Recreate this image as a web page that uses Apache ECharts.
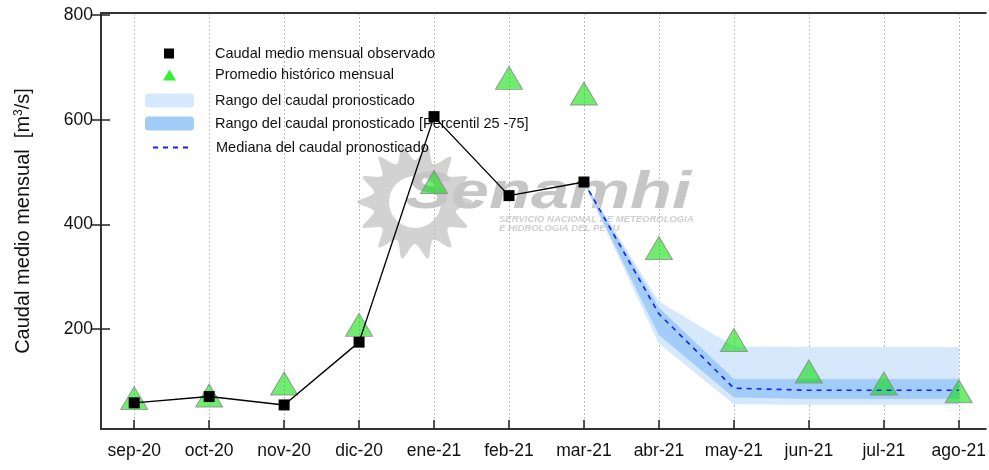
<!DOCTYPE html>
<html>
<head>
<meta charset="utf-8">
<script src="https://cdn.jsdelivr.net/npm/echarts@6/dist/echarts.min.js"></script>
<style>
html, body { margin: 0; padding: 0; background: #fff; }
#chart { width: 989px; height: 470px; }
</style>
</head>
<body>
<div id="chart"></div>
<script>
// months on the x axis, placed at 1..12
var months = ["sep-20", "oct-20", "nov-20", "dic-20", "ene-21", "feb-21", "mar-21", "abr-21", "may-21", "jun-21", "jul-21", "ago-21"];
var yTicks = [200, 400, 600, 800];

// observed monthly flow (sep-20 .. mar-21)
var observed = [59, 71, 55, 175, 606, 455, 481];
// historical monthly mean (all months)
var historical = [68, 73, 96, 208, 481, 680, 650, 355, 179, 119, 96, 81];

// forecast, from mar-21 to ago-21
var fcStart = 7;
var rangeMin = [481, 173, 57, 56, 56, 56];
var p25 = [481, 189, 70, 67, 67, 67];
var median = [481, 229, 87, 83, 83, 83];
var p75 = [481, 240, 104, 104, 104, 104];
var rangeMax = [481, 252, 166, 165, 165, 165];

var NAME_OBS = "Caudal medio mensual observado";
var NAME_HIS = "Promedio histórico mensual";
var NAME_RNG = "Rango del caudal pronosticado";
var NAME_P = "Rango del caudal pronosticado [Percentil 25 -75]";
var NAME_MED = "Mediana del caudal pronosticado";

var LIGHT = "#d5e8fc";
var DARK = "#a2cdf8";

function pairs(arr, start) {
	return arr.map(function (v, i) {
		return [start + i, v];
	});
}
function bandData(lo, hi, start) {
	return lo.map(function (v, i) {
		return [start + i, v, hi[i]];
	});
}

// one polygon piece between this month and the next one
function bandRenderer(color) {
	return function (params, api) {
		var i = params.dataIndexInside;
		if (i >= params.dataInsideLength - 1) {
			return null;
		}
		var x0 = api.value(0, i), x1 = api.value(0, i + 1);
		var pts = [
			api.coord([x0, api.value(1, i)]),
			api.coord([x1, api.value(1, i + 1)]),
			api.coord([x1, api.value(2, i + 1)]),
			api.coord([x0, api.value(2, i)])
		];
		return {
			type: "polygon",
			shape: { points: pts },
			style: { fill: color, stroke: color, lineWidth: 0.6 }
		};
	};
}

var monthPos = months.map(function (m, i) { return i + 1; });

// gray sun of the watermark
function sunPoints(cx, cy, rIn, rOut, n) {
	var pts = [];
	for (var i = 0; i < n * 2; i++) {
		var r = i % 2 === 0 ? rOut : rIn;
		var a = Math.PI * i / n;
		pts.push([cx + r * Math.cos(a), cy + r * Math.sin(a)]);
	}
	return pts;
}

var fontFamily = "'Liberation Sans', Arial, sans-serif";

function legendItem(top, left, w, h, pad, item) {
	return {
		data: [item],
		orient: "vertical",
		left: left,
		top: top,
		padding: 0,
		itemWidth: w,
		itemHeight: h,
		z: 1,
		selectedMode: false,
		textStyle: {
			fontFamily: fontFamily,
			fontSize: 14.5,
			color: "#111",
			padding: [0, 0, 0, pad]
		}
	};
}

var chart = echarts.init(document.getElementById("chart"));

var option = {
	backgroundColor: "#fff",
	animation: false,
	textStyle: { fontFamily: fontFamily },
	grid: {
		left: 101,
		right: 0,
		top: 13,
		bottom: 41
	},
	graphic: [
		{
			type: "polygon",
			z: 0,
			shape: { points: sunPoints(415, 202, 42, 58, 14), smooth: 0.3 },
			style: { fill: "#d2d2d2" }
		},
		{
			type: "circle",
			z: 0,
			shape: { cx: 415, cy: 202, r: 26 },
			style: { fill: "#ffffff" }
		},
		{
			type: "text",
			z: 0,
			x: 405,
			y: 168,
			scaleX: 1.32,
			style: {
				text: "Senamhi",
				font: "italic bold 52px 'Liberation Sans', Arial, sans-serif",
				fill: "#c6c6c6"
			}
		},
		{
			type: "text",
			z: 0,
			x: 499,
			y: 215,
			style: {
				text: "SERVICIO NACIONAL DE METEOROLOGIA\nE HIDROLOGIA DEL PERU",
				font: "italic bold 9.5px 'Liberation Sans', Arial, sans-serif",
				lineHeight: 9,
				fill: "#cfcfcf"
			}
		}
	],
	legend: [
		legendItem(46, 164, 10, 10, 36, { name: NAME_OBS, icon: "rect", itemStyle: { color: "#000", borderWidth: 0 } }),
		legendItem(67.5, 163, 13, 11, 34, { name: NAME_HIS, icon: "triangle", itemStyle: { color: "#00ee00", borderWidth: 0 } }),
		legendItem(93, 145, 49, 14, 16, { name: NAME_RNG, icon: "roundRect", itemStyle: { color: LIGHT, borderWidth: 0 } }),
		legendItem(116, 145, 49, 14, 16, { name: NAME_P, icon: "roundRect", itemStyle: { color: DARK, borderWidth: 0 } }),
		legendItem(140, 152, 36, 14, 22, { name: NAME_MED, itemStyle: { opacity: 0 } })
	],
	xAxis: [
		{
			type: "value",
			min: 0.557,
			max: 12.36,
			axisLine: { show: true, lineStyle: { color: "#333", width: 2 } },
			axisTick: {
				show: true,
				inside: true,
				length: 9,
				customValues: monthPos,
				lineStyle: { color: "#222", width: 1.5 }
			},
			axisLabel: {
				customValues: monthPos,
				margin: 13,
				fontSize: 17.5,
				color: "#111",
				formatter: function (v) {
					return months[Math.round(v) - 1];
				}
			},
			splitLine: {
				show: true,
				lineStyle: { color: "#bbb", type: [2, 2], width: 1 }
			}
		},
		{
			type: "value",
			position: "top",
			min: 0.557,
			max: 12.36,
			axisLine: { show: true, lineStyle: { color: "#333", width: 2 } },
			axisTick: { show: false },
			axisLabel: { show: false },
			splitLine: { show: false }
		}
	],
	yAxis: [
		{
			type: "value",
			min: 9,
			max: 804,
			name: "Caudal medio mensual  [m{sup|3}/s]",
			nameLocation: "middle",
			nameGap: 67,
			nameRotate: 90,
			nameTextStyle: {
				fontSize: 20,
				color: "#111",
				rich: {
					sup: { fontSize: 12, verticalAlign: "top", padding: [0, 0, 9, 0], color: "#111" }
				}
			},
			axisLine: { show: true, lineStyle: { color: "#333", width: 2 } },
			axisTick: {
				show: true,
				length: 9,
				customValues: yTicks,
				lineStyle: { color: "#222", width: 1.5 }
			},
			axisLabel: {
				customValues: yTicks,
				margin: 8,
				fontSize: 17.5,
				color: "#111"
			},
			splitLine: { show: false }
		},
		{
			type: "value",
			min: 9,
			max: 804,
			position: "left",
			axisLine: { show: false },
			axisTick: {
				show: true,
				inside: true,
				length: 9,
				customValues: yTicks,
				lineStyle: { color: "#222", width: 1.5 }
			},
			axisLabel: { show: false },
			splitLine: { show: false }
		}
	],
	series: [
		{
			name: NAME_RNG,
			type: "custom",
			data: bandData(rangeMin, rangeMax, fcStart),
			encode: { x: 0, y: [1, 2] },
			renderItem: bandRenderer(LIGHT),
			itemStyle: { color: LIGHT },
			silent: true,
			z: 2
		},
		{
			name: NAME_P,
			type: "custom",
			data: bandData(p25, p75, fcStart),
			encode: { x: 0, y: [1, 2] },
			renderItem: bandRenderer(DARK),
			itemStyle: { color: DARK },
			silent: true,
			z: 2
		},
		{
			name: NAME_HIS,
			type: "scatter",
			data: pairs(historical, 1),
			symbol: "triangle",
			symbolSize: [27, 23],
			itemStyle: {
				color: "rgba(0, 222, 0, 0.7)",
				borderColor: "#888",
				borderWidth: 1
			},
			z: 3
		},
		{
			name: NAME_OBS,
			type: "line",
			data: pairs(observed, 1),
			symbol: "rect",
			symbolSize: 11,
			showSymbol: true,
			itemStyle: { color: "#000" },
			lineStyle: { color: "#000", width: 1.4 },
			z: 5
		},
		{
			name: NAME_MED,
			type: "line",
			data: pairs(median, fcStart),
			symbol: "none",
			itemStyle: { color: "#1a1aff" },
			lineStyle: { color: "#1a1aff", width: 1.6, type: [5, 5] },
			z: 4
		}
	]
};

chart.setOption(option);
</script>
</body>
</html>
